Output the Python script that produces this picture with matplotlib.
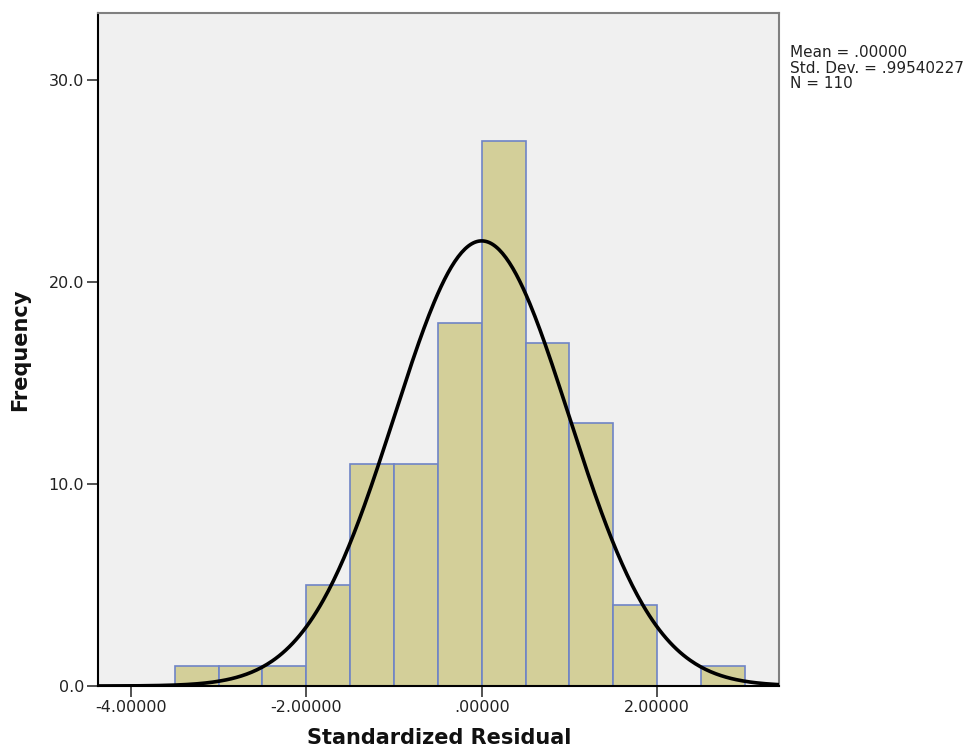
import numpy as np
import matplotlib
matplotlib.use("Agg")
import matplotlib.pyplot as plt

plt.rcParams['font.family'] = ['DejaVu Sans']

# histogram of standardized residuals
bin_edges = [-3.5, -3.0, -2.5, -2.0, -1.5, -1.0, -0.5, 0.0, 0.5, 1.0, 1.5, 2.0, 2.5, 3.0]
counts = [1, 1, 1, 5, 11, 11, 18, 27, 17, 13, 4, 0, 1]
mean = 0.0
std = 0.99540227
n = 110

xticks = [-4, -2, 0, 2]
xticklabels = ["-4.00000", "-2.00000", ".00000", "2.00000"]
yticks = [0, 10, 20, 30]
yticklabels = ["0.0", "10.0", "20.0", "30.0"]

fig = plt.figure(figsize=(9.74, 7.55), dpi=100)
ax = fig.add_axes([0.1006, 0.0914, 0.6992, 0.8914])
ax.set_facecolor("#f0f0f0")

lefts = np.array(bin_edges[:-1])
widths = np.diff(bin_edges)
for l, w, c in zip(lefts, widths, counts):
    if c > 0:
        ax.bar(l, c, width=w, align='edge', color="#d3cf99",
               edgecolor="#6f84c6", linewidth=1.2, zorder=2)

# normal curve
xlo, xhi = -4.375, 3.39
xs = np.linspace(xlo, xhi, 400)
bw = bin_edges[1] - bin_edges[0]
ys = n * bw * np.exp(-0.5 * ((xs - mean) / std) ** 2) / (std * np.sqrt(2 * np.pi))
ax.plot(xs, ys, color="black", linewidth=2.6, zorder=3)

ax.set_xlim(xlo, xhi)
ax.set_ylim(0, 33.33)
ax.set_xticks(xticks)
ax.set_xticklabels(xticklabels, fontsize=11.5, color="#222222")
ax.set_yticks(yticks)
ax.set_yticklabels(yticklabels, fontsize=11.5, color="#222222")
ax.tick_params(direction='out', length=8, width=1.2, color="#333333", pad=2)

for s in ['left', 'bottom']:
    ax.spines[s].set_color("black")
    ax.spines[s].set_linewidth(1.5)
for s in ['top', 'right']:
    ax.spines[s].set_color("#808080")
    ax.spines[s].set_linewidth(1.5)

fig.text(439 / 974, 1 - 738 / 755, "Standardized Residual", fontsize=15,
         fontweight='bold', ha='center', va='center', color="#111111")
fig.text(20 / 974, 1 - 350 / 755, "Frequency", fontsize=15, fontweight='bold',
         rotation=90, ha='center', va='center', color="#111111")

fig.text(0.811, 1 - 45 / 755, "Mean = .00000\nStd. Dev. = .99540227\nN = 110",
         fontsize=11, va='top', ha='left', linespacing=1.05, color="#222222")

fig.savefig("out.png", dpi=100)
